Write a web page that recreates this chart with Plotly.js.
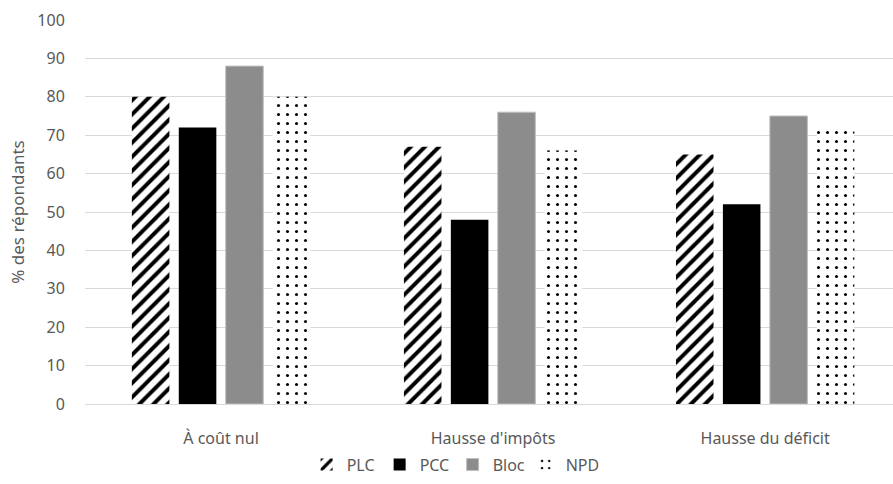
<!DOCTYPE html>
<html><head><meta charset="utf-8">
<script src="https://cdn.plot.ly/plotly-3.0.1.min.js"></script>
<style>html,body{margin:0;padding:0;overflow:hidden;background:#fff}</style>
</head><body>
<div id="chart" style="width:893px;height:484px"></div>
<script>
const categories = ["À coût nul", "Hausse d'impôts", "Hausse du déficit"];
const seriesNames = ["PLC", "PCC", "Bloc", "NPD"];
const plc = [80, 67, 65];
const pcc = [72, 48, 52];
const bloc = [88, 76, 75];
const npd = [80, 66, 72];
const yTicks = [0, 10, 20, 30, 40, 50, 60, 70, 80, 90, 100];

const font = {family: "Noto Sans, Open Sans, sans-serif", size: 16, color: "#595959"};

const traces = [
  {type: "bar", name: seriesNames[0], x: categories, y: plc,
   marker: {color: "#ffffff", line: {width: 0},
     pattern: {shape: "/", fgcolor: "#000000", bgcolor: "#ffffff", size: 10, solidity: 0.4}}},
  {type: "bar", name: seriesNames[1], x: categories, y: pcc,
   marker: {color: "#000000", line: {width: 0}}},
  {type: "bar", name: seriesNames[2], x: categories, y: bloc,
   marker: {color: "#8c8c8c", line: {width: 1, color: "#bfbfbf"}}},
  {type: "bar", name: seriesNames[3], x: categories, y: npd,
   marker: {color: "#ffffff", line: {width: 0},
     pattern: {shape: ".", fgcolor: "#000000", bgcolor: "#ffffff", size: 9, solidity: 0.09}}}
];

const layout = {
  width: 893, height: 484,
  margin: {l: 85, r: 0, t: 20, b: 80},
  paper_bgcolor: "#ffffff", plot_bgcolor: "#ffffff",
  font: font,
  barmode: "group", bargap: 0.31, bargroupgap: 0.2,
  showlegend: true,
  legend: {orientation: "h", x: 0.455, xanchor: "center", yref: "container", y: 0.04, yanchor: "middle",
    font: font, tracegroupgap: 0, itemwidth: 30, entrywidth: 28},
  xaxis: {type: "category", range: [-0.5, 2.47], showgrid: false, zeroline: false,
    showline: false, ticks: "outside", ticklen: 20, tickcolor: "rgba(0,0,0,0)",
    tickfont: font, automargin: false},
  yaxis: {range: [0, 100], tickvals: yTicks, ticktext: yTicks.map(String),
    showgrid: true, gridcolor: "#d9d9d9", gridwidth: 1, zeroline: true,
    zerolinecolor: "#d9d9d9", zerolinewidth: 1, showline: false,
    ticks: "outside", ticklen: 16, tickcolor: "rgba(0,0,0,0)",
    tickfont: font, automargin: false,
    title: {text: "% des répondants", font: {family: font.family, size: 17, color: "#595959"}, standoff: 8}}
};

Plotly.newPlot("chart", traces, layout, {displayModeBar: false, staticPlot: true});
</script>
</body></html>
